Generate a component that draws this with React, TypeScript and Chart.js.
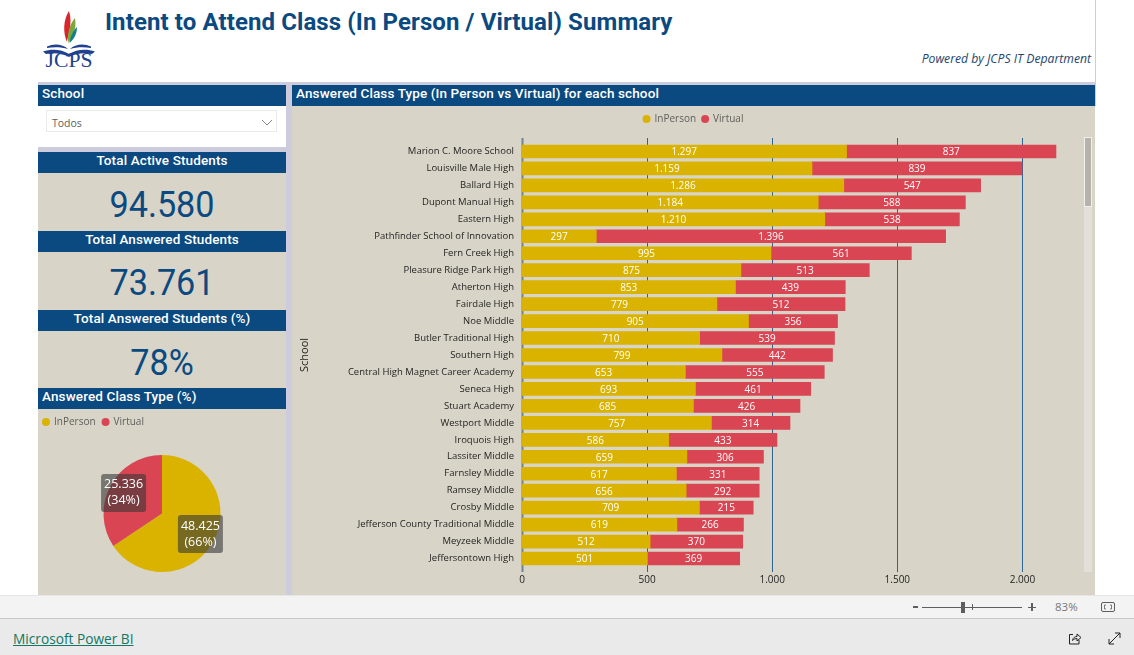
import React, { useEffect, useRef } from "react";
import { Chart, registerables } from "chart.js";

Chart.register(...registerables);

const schools = [
  "Marion C. Moore School", "Louisville Male High", "Ballard High", "Dupont Manual High", "Eastern High",
  "Pathfinder School of Innovation", "Fern Creek High", "Pleasure Ridge Park High", "Atherton High", "Fairdale High",
  "Noe Middle", "Butler Traditional High", "Southern High", "Central High Magnet Career Academy", "Seneca High",
  "Stuart Academy", "Westport Middle", "Iroquois High", "Lassiter Middle", "Farnsley Middle",
  "Ramsey Middle", "Crosby Middle", "Jefferson County Traditional Middle", "Meyzeek Middle", "Jeffersontown High",
];
const inPerson = [1297, 1159, 1286, 1184, 1210, 297, 995, 875, 853, 779, 905, 710, 799, 653, 693, 685, 757, 586, 659, 617, 656, 709, 619, 512, 501];
const virtual = [837, 839, 547, 588, 538, 1396, 561, 513, 439, 512, 356, 539, 442, 555, 461, 426, 314, 433, 306, 331, 292, 215, 266, 370, 369];
const pieLabels = ["InPerson", "Virtual"];
const pieValues = [48425, 25336];
const pieShares = ["66%", "34%"];
const xTicks = [0, 500, 1000, 1500, 2000];

const GOLD = "#DAB300";
const RED = "#D94552";
const BEIGE = "#D8D4C8";
const NAVY = "#0A4A80";
const LAV = "#CCCCDC";
const TEXT_FONT = "'Open Sans'";
const HEAD_FONT = "Roboto";

const fmt = (n: number) => String(n).replace(/\B(?=(\d{3})+(?!\d))/g, ".");

const barExtras = {
  id: "barExtras",
  beforeDatasetsDraw(chart: any) {
    const { ctx, scales } = chart;
    ctx.save();
    xTicks.forEach((t) => {
      const x = Math.round(scales.x.getPixelForValue(t)) + 0.5;
      ctx.beginPath();
      ctx.strokeStyle = t === 0 ? "#6F8296" : "#2F6490";
      ctx.lineWidth = t === 0 ? 2 : 1;
      ctx.moveTo(x, chart.chartArea.top - 5);
      ctx.lineTo(x, chart.chartArea.bottom + 5);
      ctx.stroke();
    });
    ctx.restore();
  },
  afterDatasetsDraw(chart: any) {
    const { ctx } = chart;
    ctx.save();
    ctx.font = `10px ${TEXT_FONT}`;
    ctx.fillStyle = "#FFFFFF";
    ctx.textAlign = "center";
    ctx.textBaseline = "middle";
    chart.data.datasets.forEach((ds: any, i: number) => {
      chart.getDatasetMeta(i).data.forEach((bar: any, j: number) => {
        const c = bar.getCenterPoint();
        ctx.fillText(fmt(ds.data[j]), c.x, c.y + 1);
      });
    });
    ctx.restore();
  },
};

const pieExtras = {
  id: "pieExtras",
  afterDatasetsDraw(chart: any) {
    const { ctx } = chart;
    const arcs = chart.getDatasetMeta(0).data;
    ctx.save();
    ctx.font = `12.5px ${TEXT_FONT}`;
    ctx.textAlign = "center";
    ctx.textBaseline = "middle";
    arcs.forEach((arc: any, i: number) => {
      const mid = (arc.startAngle + arc.endAngle) / 2;
      const r = arc.outerRadius * 0.745;
      const x = arc.x + Math.cos(mid) * r;
      const y = arc.y + Math.sin(mid) * r;
      ctx.fillStyle = "rgba(55,55,55,0.6)";
      ctx.beginPath();
      ctx.roundRect(x - 22.5, y - 19, 45, 38, 3);
      ctx.fill();
      ctx.fillStyle = "#FFFFFF";
      ctx.fillText(fmt(pieValues[i]), x, y - 8);
      ctx.fillText(`(${pieShares[i]})`, x, y + 8);
    });
    ctx.restore();
  },
};

const box = (l: number, t: number, w: number, h: number, bg: string): React.CSSProperties => ({
  position: "absolute", left: l, top: t, width: w, height: h, background: bg,
});

function Header({ l, t, w, text, center }: { l: number; t: number; w: number; text: string; center?: boolean }) {
  return (
    <div style={{
      ...box(l, t, w, 21, NAVY), color: "#fff", font: `500 13.5px ${HEAD_FONT}`, letterSpacing: 0.12, lineHeight: "17px",
      textAlign: center ? "center" : "left", paddingLeft: center ? 0 : 4, boxSizing: "border-box", whiteSpace: "nowrap",
    }}>{text}</div>
  );
}

function Kpi({ top, text }: { top: number; text: string }) {
  return (
    <div style={{
      position: "absolute", left: 38, width: 248, top, textAlign: "center", color: NAVY,
      font: `400 36px ${HEAD_FONT}`, lineHeight: "40px", transform: "scaleX(0.95)",
    }}>{text}</div>
  );
}

function Logo() {
  return (
    <svg style={{ position: "absolute", left: 40, top: 8, overflow: "visible" }} width="58" height="64" viewBox="0 0 58 64">
      <path d="M29 3 C23 12 23 25 27 34 C28 27 33 16 29 3Z" fill="#D8262F" />
      <path d="M35 10 C29 17 27 27 28.5 35 C32 29 37 22 35 10Z" fill="#7FA63B" />
      <path d="M37 19 C33 23 30 29 29.5 35 C33 32 37 27 37 19Z" fill="#12808C" />
      <path d="M3 43.5 C12 40.5 22 41.5 29 46 C36 41.5 46 40.5 55 43.5 L52 46 C44 44.5 36 45.5 29 49 C22 45.5 14 44.5 6 46Z" fill="#20418F" />
      <path d="M7 38.5 C14 35 23 36 28 41 C22 39 14 38.5 7 40Z M51 38.5 C44 35 35 36 30 41 C36 39 44 38.5 51 40Z" fill="#20418F" />
      <text x="29" y="59" textAnchor="middle" fontFamily="'Liberation Serif'" fontSize="21" fill="#20418F" textLength="47" lengthAdjust="spacingAndGlyphs">JCPS</text>
    </svg>
  );
}

export default function App() {
  const barRef = useRef<HTMLCanvasElement>(null);
  const pieRef = useRef<HTMLCanvasElement>(null);

  useEffect(() => {
    const bar = new Chart(barRef.current!, {
      type: "bar",
      data: {
        labels: schools,
        datasets: [
          { label: "InPerson", data: inPerson, backgroundColor: GOLD, barThickness: 13, stack: "a" },
          { label: "Virtual", data: virtual, backgroundColor: RED, barThickness: 13, stack: "a" },
        ],
      },
      options: {
        indexAxis: "y",
        animation: false,
        responsive: false,
        layout: { autoPadding: false, padding: { top: 2 } },
        plugins: {
          tooltip: { enabled: false },
          legend: {
            display: true,
            position: "top",
            labels: {
              usePointStyle: true, boxWidth: 6, boxHeight: 5.66, padding: 6,
              color: "#605E5C", font: { family: TEXT_FONT, size: 10 },
            },
          },
        },
        scales: {
          x: {
            type: "linear", stacked: true, min: 0, max: 2290,
            grid: { display: false, drawTicks: false },
            border: { display: false },
            afterBuildTicks: (s: any) => { s.ticks = xTicks.map((value) => ({ value })); },
            afterFit: (s: any) => { s.height = 28; },
            ticks: {
              padding: 7, maxRotation: 0,
              color: "#252423", font: { family: TEXT_FONT, size: 10 },
              callback: (v: any) => fmt(Number(v)),
            },
          },
          spacer: {
            type: "linear", axis: "x", position: "top",
            grid: { display: false, drawTicks: false },
            border: { display: false },
            ticks: { display: false },
            afterFit: (s: any) => { s.height = 9; },
          },
          y: {
            type: "category", stacked: true,
            grid: { display: false, drawTicks: false },
            border: { display: false },
            afterFit: (s: any) => { s.width = 230; },
            title: { display: true, text: "School", color: "#252423", font: { family: TEXT_FONT, size: 11 }, padding: { top: 6, bottom: 0 } },
            ticks: { autoSkip: false, padding: 8, color: "#252423", font: { family: TEXT_FONT, size: 9.5 } },
          },
        },
      },
      plugins: [barExtras],
    } as any);

    const pie = new Chart(pieRef.current!, {
      type: "pie",
      data: {
        labels: pieLabels,
        datasets: [{ data: pieValues, backgroundColor: [GOLD, RED], borderWidth: 0 }],
      },
      options: {
        animation: false,
        responsive: false,
        radius: 58.5,
        layout: { autoPadding: false },
        plugins: {
          tooltip: { enabled: false },
          legend: {
            display: true,
            position: "top",
            align: "start",
            labels: {
              usePointStyle: true, boxWidth: 6, boxHeight: 5.66, padding: 7,
              color: "#605E5C", font: { family: TEXT_FONT, size: 10 },
            },
          },
        },
      },
      plugins: [pieExtras],
    } as any);

    return () => { bar.destroy(); pie.destroy(); };
  }, []);

  return (
    <div style={{ position: "fixed", left: 0, top: 0, width: 1134, height: 655, overflow: "hidden", background: "#fff" }}>
      <div style={box(38, 82, 1058, 3, LAV)} />
      <div style={box(1095, 0, 1, 106, LAV)} />
      <Logo />
      <div style={{ position: "absolute", left: 105, top: 6, color: NAVY, font: `700 24px ${HEAD_FONT}`, letterSpacing: 0.1, whiteSpace: "nowrap", lineHeight: "32px" }}>
        Intent to Attend Class (In Person / Virtual) Summary
      </div>
      <div style={{ position: "absolute", right: 43, top: 50, color: "#22456B", font: `italic 400 12.2px ${TEXT_FONT}`, whiteSpace: "nowrap" }}>
        Powered by JCPS IT Department
      </div>

      {/* left column */}
      <div style={box(38, 85, 254, 510, LAV)} />
      <div style={box(292, 85, 803, 510, BEIGE)} />
      <div style={box(38, 106, 248, 41, "#fff")} />
      <div style={box(38, 173, 248, 422, BEIGE)} />
      <Header l={38} t={85} w={248} text="School" />
      <div style={{ ...box(46, 110, 231, 22, "#fff"), border: "1px solid #EAEAEA", boxSizing: "border-box", color: "#605E5C", font: `10.5px ${TEXT_FONT}`, lineHeight: "24px", paddingLeft: 5 }}>Todos</div>
      <svg style={{ position: "absolute", left: 261, top: 119 }} width="12" height="7"><path d="M1 1 L6 6 L11 1" fill="none" stroke="#8A8886" /></svg>
      <Header l={38} t={152} w={248} text="Total Active Students" center />
      <Kpi top={185} text="94.580" />
      <Header l={38} t={231} w={248} text="Total Answered Students" center />
      <Kpi top={263} text="73.761" />
      <Header l={38} t={310} w={248} text="Total Answered Students (%)" center />
      <Kpi top={343} text="78%" />
      <Header l={38} t={388} w={248} text="Answered Class Type (%)" />
      <canvas ref={pieRef} width={252} height={180} style={{ position: "absolute", left: 36, top: 410, display: "block" }} />

      {/* right panel */}
      <Header l={292} t={85} w={803} text="Answered Class Type (In Person vs Virtual) for each school" />
      <canvas ref={barRef} width={803} height={489} style={{ position: "absolute", left: 292, top: 106, display: "block" }} />
      <div style={box(1084, 137, 8, 435, "#E2E0D8")} />
      <div style={{ ...box(1084, 137, 8, 70, "#B5B3AB"), border: "1px solid #F0EFEA", boxSizing: "border-box" }} />

      {/* zoom bar */}
      <div style={box(0, 595, 1134, 23, "#F3F3F3")} />
      <div style={box(0, 595, 1134, 1, "#E6E6E6")} />
      <div style={box(0, 618, 1134, 37, "#EAEAEA")} />
      <div style={box(0, 618, 1134, 1, "#C8C8C8")} />
      <div style={box(913, 606, 5, 2, "#605E5C")} />
      <div style={box(922, 607, 100, 1, "#605E5C")} />
      <div style={box(961, 602, 4, 11, "#605E5C")} />
      <div style={box(972, 604, 1, 6, "#605E5C")} />
      <div style={box(1028, 606.5, 8, 1.2, "#605E5C")} />
      <div style={box(1031.4, 603, 1.2, 8, "#605E5C")} />
      <div style={{ position: "absolute", left: 1055, top: 599, color: "#777", font: `11.5px ${TEXT_FONT}` }}>83%</div>
      <svg style={{ position: "absolute", left: 1101, top: 601 }} width="14" height="12" fill="none" stroke="#605E5C">
        <rect x="0.5" y="1.5" width="13" height="9" rx="1.5" />
        <path d="M3.5 6 V4 H5 M9 4 H10.5 V6 M3.5 6 V8 H5 M9 8 H10.5 V6" strokeWidth="0.8" />
      </svg>
      <a style={{ position: "absolute", left: 13, top: 629, color: "#117865", font: `500 13.7px ${TEXT_FONT}`, textDecoration: "underline", whiteSpace: "nowrap" }}>Microsoft Power BI</a>
      <svg style={{ position: "absolute", left: 1068, top: 632 }} width="14" height="13" fill="none" stroke="#222">
        <path d="M5 2.5 H1.5 V12 H11 V8" />
        <path d="M4.5 8.5 C5 5.5 7 4.5 9 4.5 V2 L13 5.5 L9 9 V6.5 C7.5 6.5 6 7 4.5 8.5Z" />
      </svg>
      <svg style={{ position: "absolute", left: 1108, top: 632 }} width="13" height="13" fill="none" stroke="#222">
        <path d="M1 12 L12 1 M7 1 H12 V6 M1 7 V12 H6" />
      </svg>
    </div>
  );
}
